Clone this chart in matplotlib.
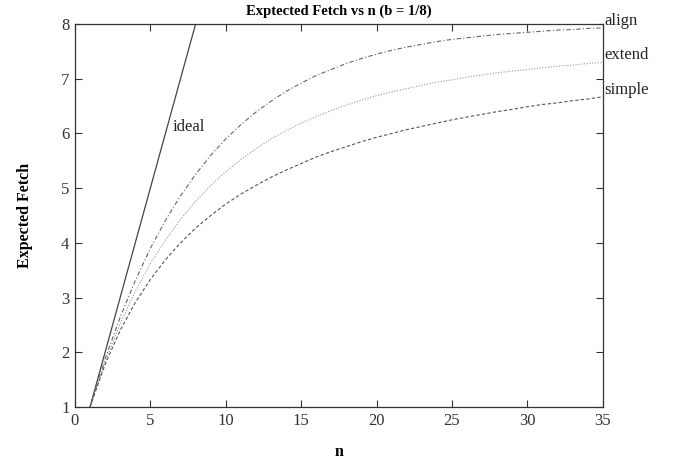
import numpy as np
import matplotlib
matplotlib.use("Agg")
from matplotlib import pyplot as plt

plt.rcParams['font.family'] = ['Liberation Serif', 'DejaVu Serif']

# values, n = 1..35
n = np.arange(1, 36)
align = [1.00, 1.88, 2.64, 3.31, 3.90, 4.41, 4.86, 5.25, 5.60, 5.90,
         6.16, 6.39, 6.59, 6.77, 6.92, 7.06, 7.17, 7.28, 7.37, 7.45,
         7.52, 7.58, 7.63, 7.68, 7.72, 7.75, 7.78, 7.81, 7.83, 7.85,
         7.87, 7.89, 7.90, 7.92, 7.93]
extend = [1.00, 1.83, 2.52, 3.11, 3.62, 4.05, 4.43, 4.76, 5.05, 5.30,
          5.52, 5.72, 5.90, 6.05, 6.19, 6.31, 6.42, 6.52, 6.61, 6.69,
          6.76, 6.82, 6.88, 6.94, 6.98, 7.03, 7.07, 7.11, 7.14, 7.17,
          7.20, 7.23, 7.25, 7.28, 7.30]
simple = [1.00, 1.78, 2.40, 2.91, 3.33, 3.69, 4.00, 4.27, 4.50, 4.71,
          4.89, 5.05, 5.20, 5.33, 5.45, 5.57, 5.67, 5.76, 5.85, 5.93,
          6.00, 6.07, 6.13, 6.19, 6.25, 6.30, 6.35, 6.40, 6.44, 6.49,
          6.53, 6.56, 6.60, 6.63, 6.67]
n_ideal = [1, 8]
ideal = [1, 8]

fig = plt.figure(figsize=(6.75, 4.63), dpi=100)
ax = fig.add_axes([0.111, 0.121, 0.782, 0.827])

ax.plot(n_ideal, ideal, color="#444444", lw=0.9, ls="-")
ax.plot(n, align, color="#666666", lw=0.8, ls=(0, (4, 2, 1, 2)))
ax.plot(n, extend, color="#999999", lw=0.8, ls=(0, (1, 1.5)))
ax.plot(n, simple, color="#555555", lw=0.8, ls=(0, (3, 2)))

lab = dict(fontsize=12, ha="left", va="center", color="#222222", clip_on=False)
ax.text(6.45, 6.12, "ideal", **lab)
ax.text(35.1, 8.06, "align", **lab)
ax.text(35.1, 7.43, "extend", **lab)
ax.text(35.1, 6.80, "simple", **lab)

ax.set_xlim(0, 35)
ax.set_ylim(1, 8)
ax.set_xticks(range(0, 36, 5))
ax.set_yticks(range(1, 9))
ax.tick_params(direction="in", top=True, right=True, length=5, width=0.8,
               labelsize=12, colors="#333333", pad=4)
for s in ax.spines.values():
    s.set_color("#333333")
    s.set_linewidth(0.9)

ax.set_title("Exptected Fetch vs n (b = 1/8)", fontsize=10.5, fontweight="bold", pad=7)
ax.set_xlabel("n", fontsize=11.5, fontweight="bold", labelpad=11)
ax.set_ylabel("Expected Fetch", fontsize=11.5, fontweight="bold", labelpad=20)

fig.savefig("out.png", dpi=100)
